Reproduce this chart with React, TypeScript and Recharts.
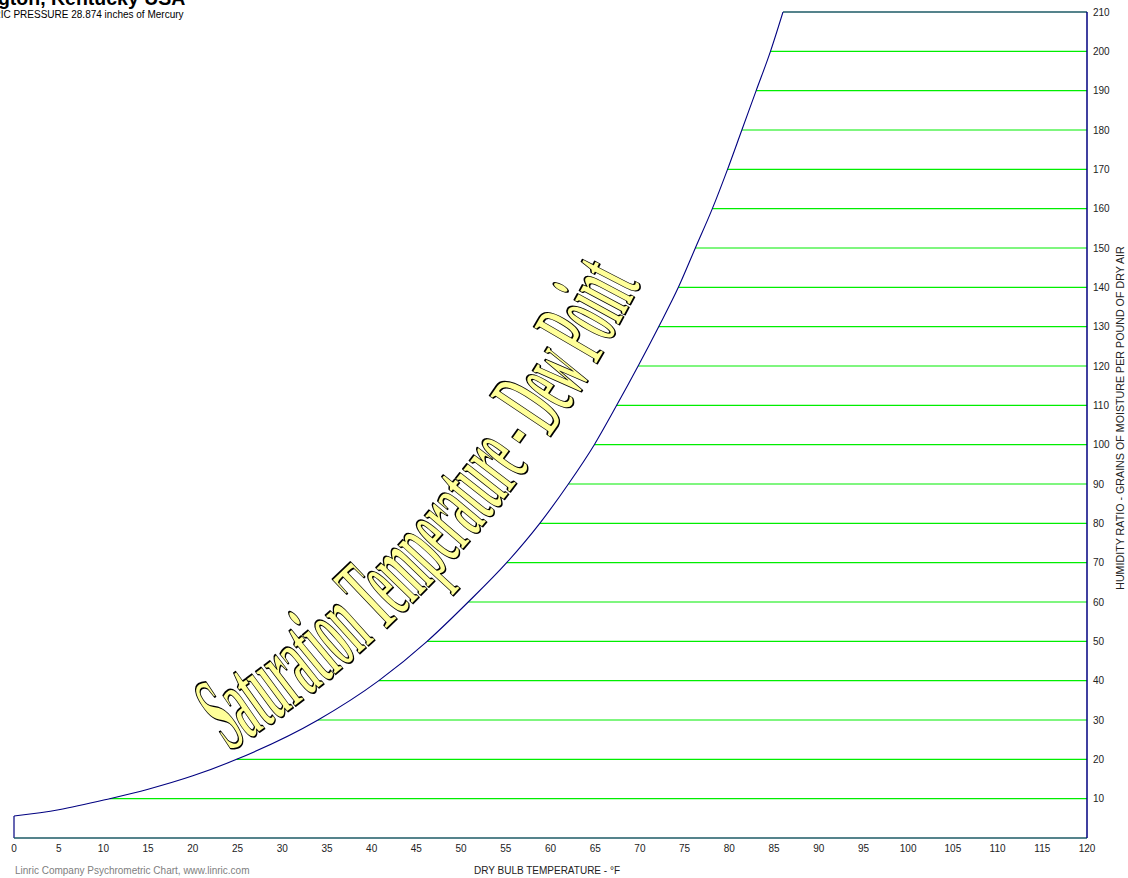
import React from 'react';
import { LineChart, Line, XAxis, YAxis, ReferenceLine } from 'recharts';

// Dry bulb temperature ticks (°F)
const dryBulbTicks = [0, 5, 10, 15, 20, 25, 30, 35, 40, 45, 50, 55, 60, 65, 70, 75, 80, 85, 90, 95, 100, 105, 110, 115, 120];
// Humidity ratio ticks (grains of moisture per pound of dry air)
const humidityTicks = [10, 20, 30, 40, 50, 60, 70, 80, 90, 100, 110, 120, 130, 140, 150, 160, 170, 180, 190, 200, 210];

// Saturation curve: temperature (°F) and grains
const saturationTemps = [0, 5, 10.7, 15, 20, 24.9, 34.0, 40.8, 46.2, 50.8, 55.1, 58.8, 62, 64.9, 67.4, 69.8, 72.1, 74.3, 76.2, 78.1, 79.8, 81.4, 83, 84.6, 86];
const saturationGrains = [5.6, 7.2, 10, 12.4, 15.8, 20, 30, 40, 50, 60, 70, 80, 90, 100, 110, 120, 130, 140, 150, 160, 170, 180, 190, 200, 210];

// Constant humidity ratio lines (grains) drawn from the saturation curve to 120 °F
const constantGrainLines = [10, 20, 30, 40, 50, 60, 70, 80, 90, 100, 110, 120, 130, 140, 150, 160, 170, 180, 190, 200];

// Annotation arc end points in data units (°F, grains)
const arcStart = { t: 24.16, w: 21.86 };
const arcEnd = { t: 70.23, w: 141.36 };

const satData = saturationTemps.map((t, i) => ({ t, w: saturationGrains[i] }));
const gridLines = constantGrainLines.map((g) => {
  const idx = saturationGrains.indexOf(g);
  return { g, t: saturationTemps[idx] };
});

const SANS = 'Liberation Sans, Arial, Helvetica, sans-serif';

const ArcTitle = (props: any) => {
  const vb = props.viewBox;
  if (!vb) return null;
  const x0 = vb.x;
  const y0 = vb.y + vb.height;
  const x2 = vb.x + vb.width;
  const y2 = vb.y;
  const cx = vb.x + 0.626 * vb.width;
  const cy = vb.y + 0.644 * vb.height;
  const d = `M${x0},${y0} Q${cx},${cy} ${x2},${y2}`;
  return (
    <g>
      <defs>
        <path id="satArcPath" d={d} fill="none" />
      </defs>
      <text
        fontFamily="Liberation Serif, Times New Roman, serif"
        fontSize={112}
        fontWeight="bold"
        fill="#ffff99"
        stroke="#000000"
        strokeWidth={1.8}
        strokeLinejoin="round"
      >
        <textPath href="#satArcPath" textLength={630} lengthAdjust="spacingAndGlyphs">
          Saturation Temperature - Dew Point
        </textPath>
      </text>
    </g>
  );
};

export default function App() {
  return (
    <div style={{ position: 'absolute', left: 0, top: 0, width: 1128, height: 878, background: '#fff' }}>
      <LineChart
        width={1128}
        height={878}
        data={satData}
        margin={{ top: 12, right: 0, bottom: 20, left: 14 }}
      >
        <XAxis
          type="number"
          dataKey="t"
          domain={[0, 120]}
          ticks={dryBulbTicks}
          interval={0}
          allowDataOverflow
          height={20}
          tickLine={false}
          tickSize={6}
          tickMargin={1}
          axisLine={{ stroke: '#1d5a66', strokeWidth: 1.5 }}
          tick={{ fill: '#222', fontSize: 10, fontFamily: SANS }}
        />
        <YAxis
          type="number"
          orientation="right"
          domain={[0, 210]}
          ticks={humidityTicks}
          interval={0}
          allowDataOverflow
          width={41}
          tickLine={false}
          tickSize={6}
          tickMargin={0}
          axisLine={{ stroke: '#000080', strokeWidth: 1.5 }}
          tick={{ fill: '#222', fontSize: 10, fontFamily: SANS, textAnchor: 'start' }}
        />
        {gridLines.map((gl) => (
          <ReferenceLine
            key={gl.g}
            segment={[{ x: gl.t, y: gl.g }, { x: 120, y: gl.g }]}
            stroke="#00ee00"
            strokeWidth={1.2}
            ifOverflow="visible"
          />
        ))}
        <ReferenceLine
          segment={[{ x: 86, y: 210 }, { x: 120, y: 210 }]}
          stroke="#1d5a66"
          strokeWidth={1.5}
          ifOverflow="visible"
        />
        <ReferenceLine
          segment={[{ x: 0, y: 0 }, { x: 0, y: 5.6 }]}
          stroke="#000080"
          strokeWidth={1.2}
          ifOverflow="visible"
        />
        <Line
          type="monotone"
          dataKey="w"
          stroke="#000080"
          strokeWidth={1.1}
          dot={false}
          isAnimationActive={false}
        />
        <ReferenceLine
          segment={[{ x: arcStart.t, y: arcStart.w }, { x: arcEnd.t, y: arcEnd.w }]}
          stroke="none"
          ifOverflow="visible"
          label={(p: any) => <ArcTitle {...p} />}
        />
      </LineChart>
      <svg
        width={1128}
        height={878}
        style={{ position: 'absolute', left: 0, top: 0, pointerEvents: 'none' }}
      >
        <text x={-53} y={5} fontFamily={SANS} fontWeight="bold" fontSize={19.5} fill="#000">
          Lexington, Kentucky USA
        </text>
        <text x={-56} y={18} fontFamily={SANS} fontSize={10} fill="#000">
          BAROMETRIC PRESSURE 28.874 inches of Mercury
        </text>
        <text x={15} y={874} fontFamily={SANS} fontSize={10} fill="#808080">
          Linric Company Psychrometric Chart, www.linric.com
        </text>
        <text x={547} y={874} fontFamily={SANS} fontSize={10} fill="#222" textAnchor="middle">
          DRY BULB TEMPERATURE - °F
        </text>
        <text
          transform="translate(1124,418) rotate(-90)"
          fontFamily={SANS}
          fontSize={10.7}
          fill="#222"
          textAnchor="middle"
        >
          HUMIDITY RATIO - GRAINS OF MOISTURE PER POUND OF DRY AIR
        </text>
      </svg>
    </div>
  );
}
